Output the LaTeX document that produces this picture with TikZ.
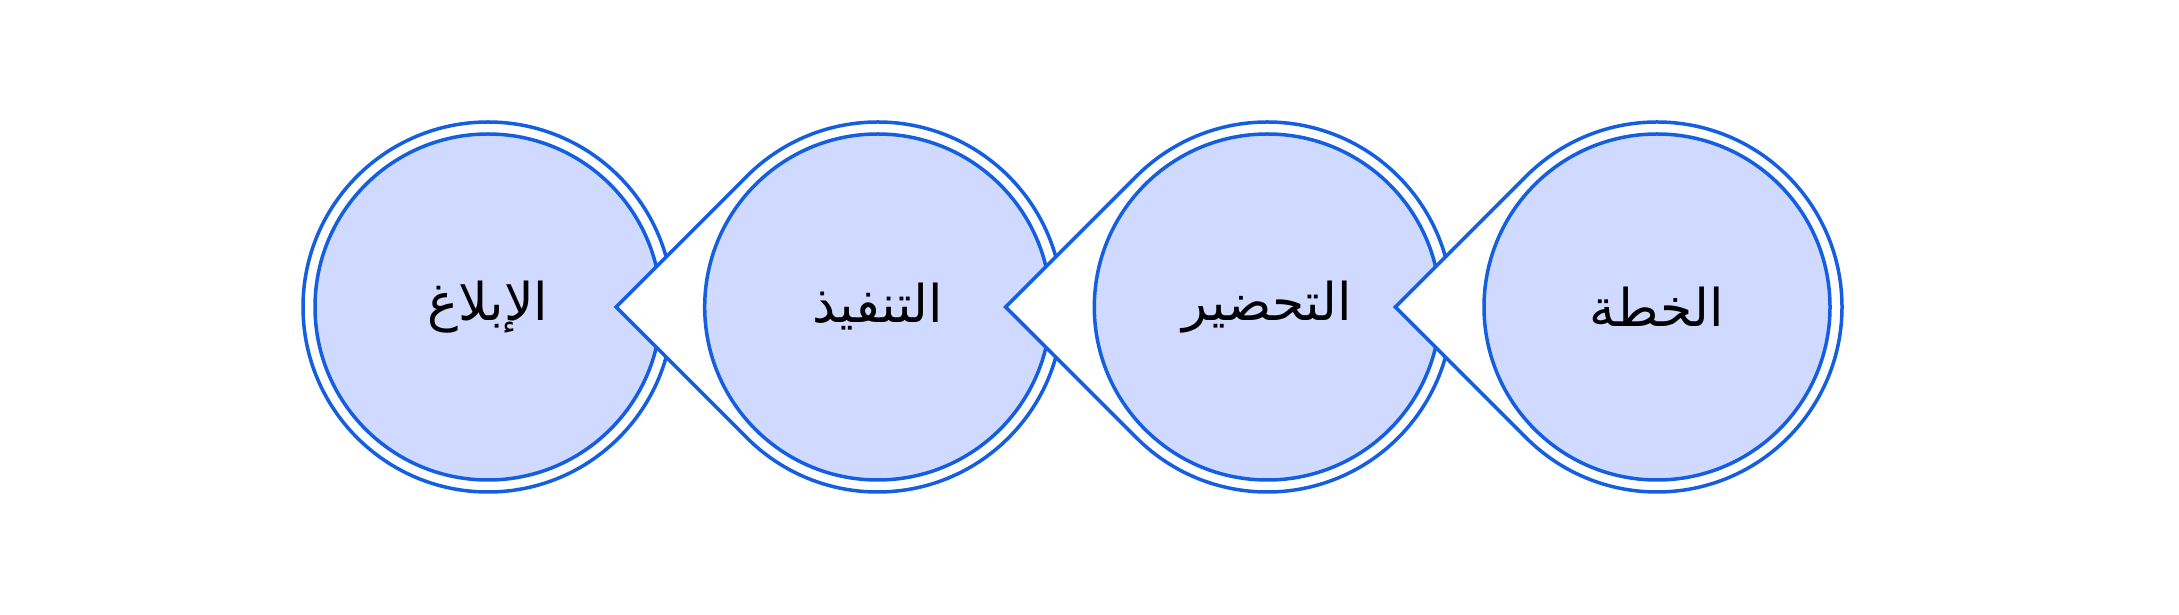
\documentclass[tikz,border=0pt]{standalone}
\usepackage{fontspec}
\newfontfamily\arabicfont[Script=Arabic]{DejaVu Sans}
\TeXXeTstate=1
\definecolor{ringblue}{RGB}{20,95,225}
\definecolor{discblue}{RGB}{208,217,255}
\begin{document}
\begin{tikzpicture}[x=0.5pt,y=0.5pt,
  outer/.style={draw=ringblue, line width=1.75pt, fill=white},
  disk/.style={circle, draw=ringblue, line width=1.75pt, fill=discblue,
    minimum size=173pt, inner sep=0pt,
    font=\arabicfont\fontsize{26}{30}\selectfont}]
\useasboundingbox (0,0) rectangle (2179,615);
\coordinate (k1) at (488,308);
\coordinate (k2) at (877.7,308);
\coordinate (k3) at (1267.3,308);
\coordinate (k4) at (1657,308);
% unit 1
\draw[outer] (k1) circle[radius=92.5pt];
\node[disk] (n1) at (k1) {\beginR الإبلاغ\endR};
% unit 2
\draw[outer] ([shift={(180:130.8pt)}]k2) -- ([shift={(135:92.5pt)}]k2)
  arc[start angle=135, end angle=-135, radius=92.5pt] -- cycle;
\node[disk] (n2) at (k2) {\beginR التنفيذ\endR};
% unit 3
\draw[outer] ([shift={(180:130.8pt)}]k3) -- ([shift={(135:92.5pt)}]k3)
  arc[start angle=135, end angle=-135, radius=92.5pt] -- cycle;
\node[disk] (n3) at (k3) {\beginR التحضير\endR};
% unit 4
\draw[outer] ([shift={(180:130.8pt)}]k4) -- ([shift={(135:92.5pt)}]k4)
  arc[start angle=135, end angle=-135, radius=92.5pt] -- cycle;
\node[disk] (n4) at (k4) {\beginR الخطة\endR};
\end{tikzpicture}
\end{document}
